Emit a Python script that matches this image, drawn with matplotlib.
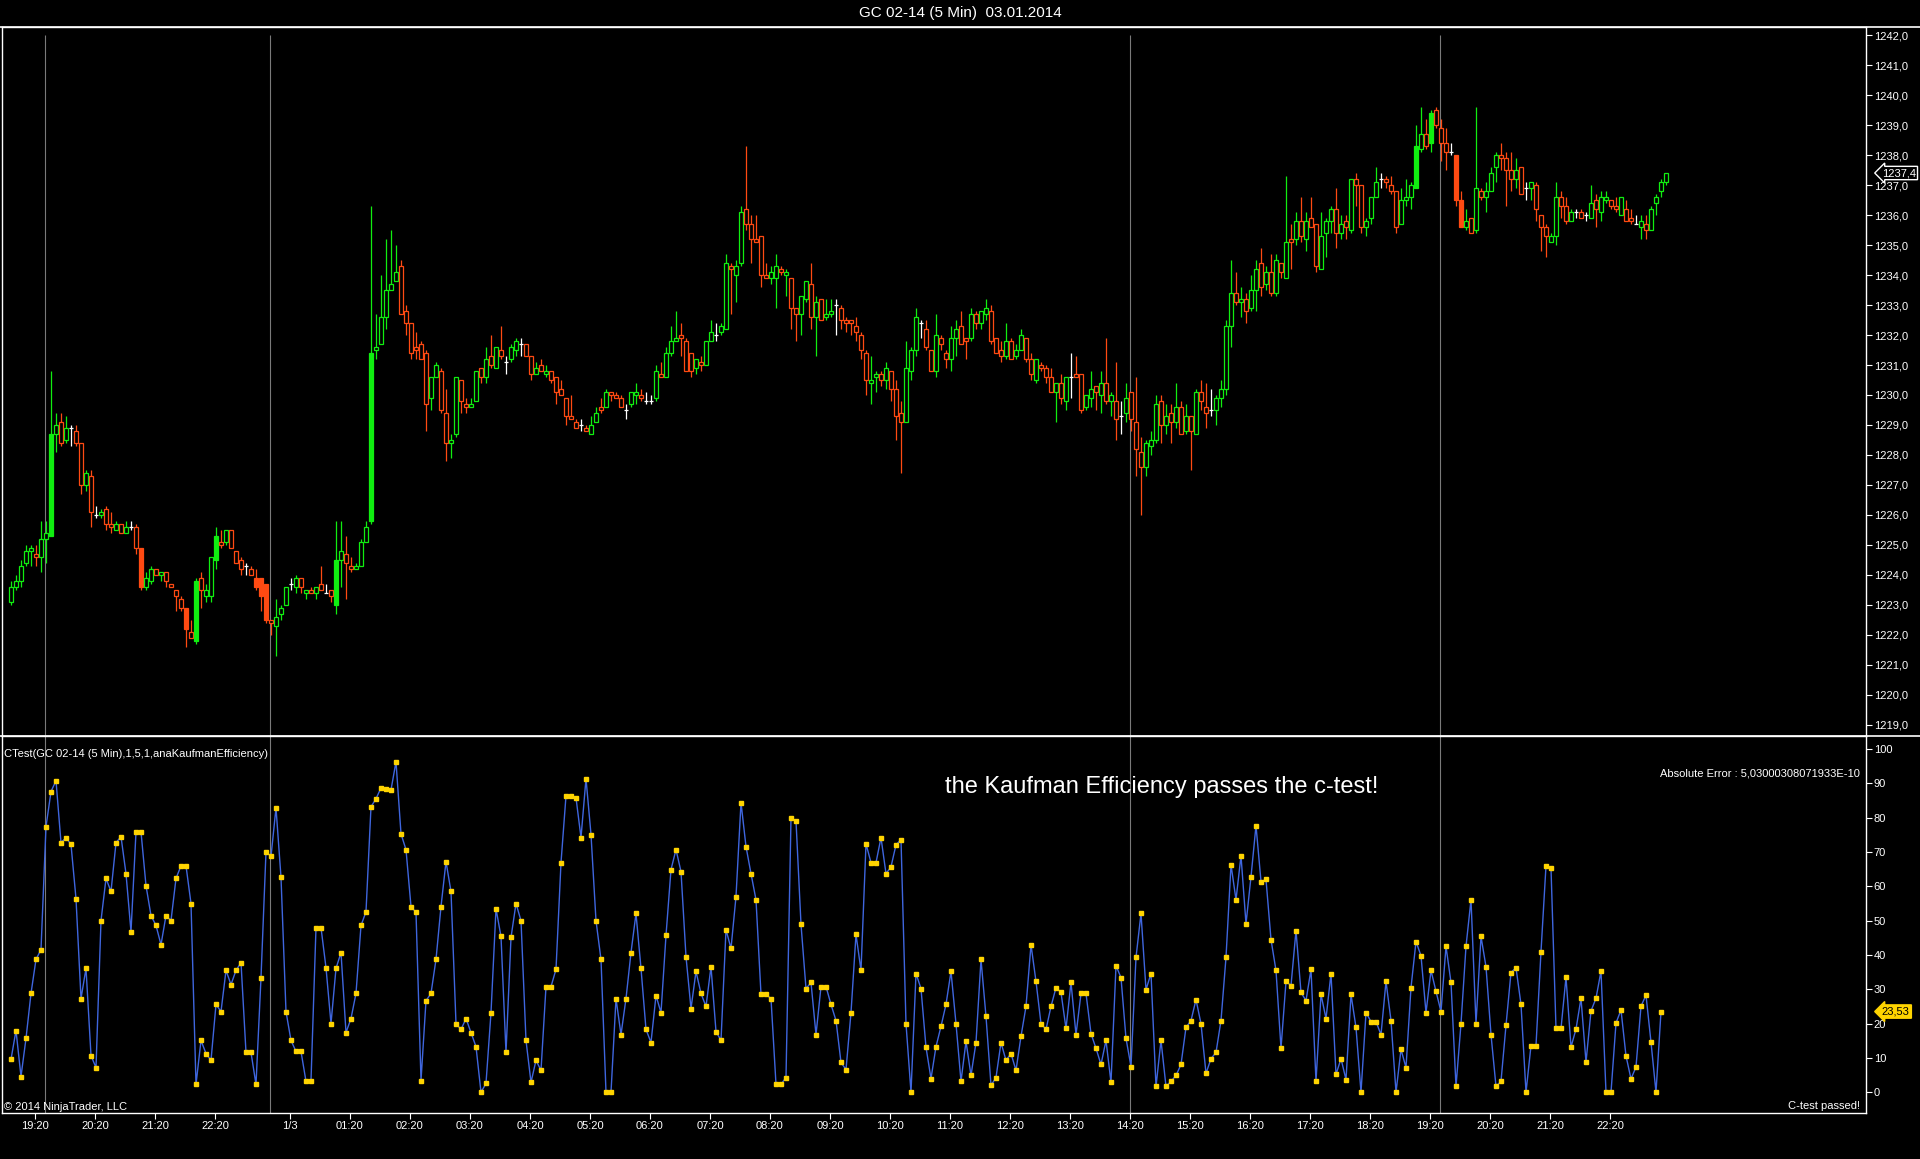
import numpy as np
import matplotlib.pyplot as plt
from matplotlib.lines import Line2D

plt.rcParams['font.family'] = ['Liberation Sans', 'DejaVu Sans']

title = 'GC 02-14 (5 Min)  03.01.2014'
ind_name = 'CTest(GC 02-14 (5 Min),1,5,1,anaKaufmanEfficiency)'

# 5 min bars, OHLC
opens = [
    1223.1, 1223.6, 1223.8, 1224.4, 1224.8, 1224.7, 1224.6, 1225.2, 1225.3, 1228.7,
    1229.1, 1228.5, 1228.9, 1228.8, 1228.4, 1227.0, 1227.3, 1226.0, 1226.0, 1226.2,
    1225.7, 1225.5, 1225.7, 1225.4, 1225.6, 1225.6, 1224.9, 1223.6, 1223.8, 1224.2,
    1224.0, 1224.1, 1223.7, 1223.5, 1223.2, 1222.9, 1222.1, 1221.8, 1223.9, 1223.3,
    1223.3, 1224.5, 1225.1, 1225.1, 1225.5, 1224.8, 1224.5, 1224.3, 1224.2, 1223.9,
    1223.9, 1223.7, 1222.5, 1222.3, 1222.7, 1223.0, 1223.7, 1223.6, 1223.9, 1223.4,
    1223.5, 1223.4, 1223.7, 1223.4, 1223.5, 1223.0, 1224.5, 1224.7, 1224.3, 1224.2,
    1224.3, 1225.1, 1225.8, 1231.5, 1231.7, 1232.6, 1233.5, 1233.8, 1234.3, 1232.8,
    1232.4, 1231.6, 1231.7, 1231.4, 1229.9, 1230.6, 1230.8, 1229.4, 1228.4, 1228.7,
    1230.5, 1229.7, 1229.6, 1229.8, 1230.9, 1230.6, 1231.3, 1230.9, 1231.5, 1231.1,
    1231.2, 1231.5, 1231.7, 1231.7, 1231.3, 1230.7, 1231.0, 1230.7, 1230.8, 1230.6,
    1230.2, 1229.9, 1229.3, 1229.1, 1229.0, 1228.9, 1228.7, 1229.1, 1229.6, 1229.6,
    1230.1, 1230.0, 1229.9, 1229.5, 1229.7, 1230.0, 1230.0, 1229.8, 1229.8, 1229.9,
    1230.7, 1230.6, 1231.4, 1231.8, 1232.0, 1231.8, 1231.4, 1230.9, 1231.1, 1231.0,
    1231.8, 1232.0, 1232.1, 1232.2, 1234.3, 1234.0, 1234.4, 1236.2, 1235.7, 1235.2,
    1235.3, 1234.0, 1233.9, 1233.9, 1234.2, 1234.0, 1233.9, 1232.9, 1232.7, 1233.2,
    1233.7, 1232.6, 1233.2, 1232.6, 1232.7, 1233.0, 1232.9, 1232.5, 1232.5, 1232.3,
    1232.0, 1231.4, 1230.4, 1230.6, 1230.7, 1230.5, 1230.8, 1230.2, 1229.4, 1229.1,
    1230.8, 1231.5, 1232.4, 1232.2, 1231.5, 1230.8, 1231.9, 1231.4, 1231.2, 1231.9,
    1232.3, 1231.9, 1231.9, 1232.7, 1232.4, 1232.7, 1232.8, 1231.9, 1231.5, 1231.3,
    1231.8, 1231.3, 1231.5, 1231.9, 1231.2, 1230.5, 1231.0, 1230.9, 1230.6, 1230.1,
    1230.4, 1229.8, 1230.6, 1230.7, 1230.7, 1229.6, 1229.9, 1230.3, 1230.0, 1230.4,
    1229.8, 1229.8, 1229.3, 1229.4, 1230.1, 1229.1, 1228.1, 1227.6, 1228.3, 1228.5,
    1229.8, 1229.0, 1229.4, 1229.1, 1229.6, 1228.8, 1229.3, 1228.7, 1230.1, 1229.6,
    1229.5, 1229.5, 1229.9, 1230.2, 1232.3, 1233.4, 1233.1, 1233.2, 1232.9, 1233.5,
    1234.4, 1233.7, 1234.1, 1233.4, 1234.4, 1233.9, 1235.2, 1235.2, 1235.8, 1235.2,
    1235.9, 1235.7, 1234.2, 1235.4, 1235.8, 1236.2, 1235.4, 1235.8, 1235.5, 1237.2,
    1237.0, 1235.6, 1235.9, 1236.6, 1237.2, 1237.2, 1237.0, 1236.8, 1235.7, 1236.5,
    1236.6, 1236.9, 1238.2, 1238.7, 1238.4, 1239.5, 1238.9, 1238.4, 1238.1, 1238.0,
    1236.5, 1235.6, 1235.9, 1235.5, 1236.8, 1236.6, 1236.8, 1237.6, 1238.0, 1237.9,
    1237.5, 1237.2, 1237.6, 1236.9, 1236.9, 1237.0, 1236.0, 1235.6, 1235.1, 1235.3,
    1236.6, 1236.3, 1235.8, 1236.1, 1236.1, 1236.0, 1235.9, 1236.5, 1236.1, 1236.5,
    1236.5, 1236.3, 1236.0, 1236.2, 1235.9, 1235.7, 1235.6, 1235.7, 1235.5, 1236.4,
    1236.8, 1237.1,
]
highs = [
    1223.8, 1224.0, 1224.5, 1225.0, 1225.0, 1225.0, 1225.8, 1225.8, 1230.8, 1229.4,
    1229.4, 1229.3, 1229.0, 1229.0, 1228.4, 1227.5, 1227.5, 1226.3, 1226.2, 1226.3,
    1226.1, 1225.8, 1225.7, 1225.8, 1225.8, 1225.7, 1224.9, 1224.1, 1224.3, 1224.2,
    1224.1, 1224.1, 1223.7, 1223.5, 1223.3, 1222.9, 1222.5, 1223.9, 1224.1, 1223.7,
    1224.6, 1225.6, 1225.5, 1225.5, 1225.5, 1224.8, 1224.6, 1224.4, 1224.3, 1224.2,
    1223.9, 1223.7, 1222.5, 1223.2, 1223.0, 1223.6, 1223.9, 1224.0, 1223.9, 1223.5,
    1223.6, 1223.6, 1224.3, 1223.7, 1223.5, 1225.8, 1225.8, 1225.3, 1224.6, 1224.4,
    1225.2, 1225.8, 1236.3, 1232.7, 1234.0, 1235.2, 1235.5, 1235.0, 1234.5, 1233.0,
    1232.4, 1232.1, 1231.8, 1231.5, 1230.6, 1231.1, 1230.9, 1230.2, 1228.7, 1230.6,
    1230.5, 1229.9, 1229.9, 1230.8, 1230.9, 1231.6, 1232.0, 1231.6, 1232.3, 1231.3,
    1231.7, 1231.9, 1231.9, 1231.7, 1231.3, 1231.1, 1231.2, 1231.0, 1230.8, 1230.6,
    1230.5, 1229.9, 1230.0, 1229.2, 1229.2, 1229.0, 1229.3, 1229.6, 1229.9, 1230.2,
    1230.1, 1230.1, 1230.0, 1229.7, 1230.1, 1230.4, 1230.2, 1230.1, 1230.0, 1231.0,
    1231.1, 1231.6, 1232.3, 1232.8, 1232.4, 1231.9, 1231.4, 1231.2, 1231.3, 1231.8,
    1232.5, 1232.4, 1232.4, 1234.7, 1234.4, 1234.5, 1236.3, 1238.3, 1236.0, 1236.0,
    1235.3, 1234.4, 1234.3, 1234.7, 1234.3, 1234.2, 1233.9, 1232.9, 1233.3, 1233.8,
    1234.4, 1233.3, 1233.2, 1233.2, 1233.2, 1233.2, 1233.0, 1232.6, 1232.5, 1232.6,
    1232.1, 1231.5, 1231.3, 1230.8, 1230.8, 1231.1, 1230.8, 1230.5, 1229.8, 1231.8,
    1231.6, 1232.9, 1232.5, 1232.5, 1231.5, 1232.7, 1232.0, 1231.5, 1232.3, 1232.5,
    1232.8, 1231.9, 1232.9, 1232.8, 1232.8, 1233.2, 1233.0, 1231.9, 1231.8, 1232.4,
    1231.9, 1231.7, 1232.2, 1231.9, 1231.4, 1231.2, 1231.1, 1231.0, 1230.9, 1230.4,
    1230.7, 1230.6, 1231.4, 1231.3, 1230.7, 1230.0, 1230.8, 1230.3, 1230.8, 1231.9,
    1230.1, 1231.1, 1229.8, 1230.4, 1230.1, 1230.6, 1228.6, 1228.5, 1228.8, 1230.0,
    1230.0, 1229.7, 1229.7, 1230.4, 1229.8, 1229.7, 1229.3, 1230.2, 1230.5, 1230.4,
    1230.2, 1230.0, 1230.5, 1232.5, 1234.5, 1234.1, 1233.6, 1233.4, 1234.0, 1234.5,
    1234.9, 1234.3, 1234.7, 1234.7, 1234.4, 1237.3, 1235.7, 1236.1, 1236.6, 1236.1,
    1236.6, 1235.7, 1236.1, 1235.9, 1236.3, 1236.9, 1236.0, 1236.0, 1237.2, 1237.4,
    1237.0, 1235.9, 1236.6, 1237.6, 1237.4, 1237.3, 1237.3, 1236.8, 1236.9, 1237.2,
    1237.1, 1239.0, 1239.6, 1239.2, 1239.5, 1239.6, 1239.2, 1238.9, 1238.4, 1238.0,
    1236.8, 1236.2, 1235.9, 1239.6, 1236.9, 1237.1, 1237.6, 1238.1, 1238.4, 1238.1,
    1238.1, 1237.9, 1237.6, 1237.1, 1237.1, 1237.1, 1236.0, 1235.7, 1235.4, 1237.1,
    1236.8, 1236.6, 1236.2, 1236.2, 1236.2, 1236.1, 1237.0, 1236.7, 1236.8, 1236.8,
    1236.5, 1236.6, 1236.6, 1236.5, 1236.2, 1236.0, 1236.0, 1236.0, 1236.3, 1236.7,
    1237.2, 1237.4,
]
lows = [
    1223.0, 1223.5, 1223.6, 1224.3, 1224.3, 1224.3, 1224.1, 1224.4, 1225.3, 1228.1,
    1228.3, 1228.4, 1228.3, 1228.3, 1226.7, 1226.8, 1225.6, 1225.9, 1225.9, 1225.5,
    1225.4, 1225.5, 1225.4, 1225.4, 1225.5, 1224.7, 1223.5, 1223.5, 1223.7, 1224.0,
    1223.8, 1223.6, 1223.6, 1222.8, 1222.8, 1221.6, 1221.9, 1221.7, 1222.9, 1223.1,
    1223.1, 1224.2, 1224.9, 1225.0, 1224.9, 1224.4, 1224.0, 1224.0, 1224.0, 1223.5,
    1222.8, 1222.4, 1222.0, 1221.3, 1222.5, 1223.0, 1223.5, 1223.4, 1223.4, 1223.2,
    1223.4, 1223.2, 1223.5, 1223.4, 1223.1, 1222.7, 1223.6, 1223.2, 1224.1, 1224.2,
    1224.3, 1225.1, 1225.7, 1231.2, 1231.7, 1232.2, 1233.5, 1233.8, 1232.7, 1232.0,
    1231.2, 1231.2, 1231.2, 1228.8, 1229.5, 1230.6, 1229.4, 1227.8, 1227.9, 1228.6,
    1229.4, 1229.4, 1229.6, 1229.8, 1230.4, 1230.4, 1230.9, 1230.9, 1231.2, 1230.7,
    1231.1, 1231.3, 1231.3, 1231.3, 1230.5, 1230.7, 1230.8, 1230.6, 1230.4, 1229.7,
    1230.0, 1229.0, 1229.2, 1228.9, 1228.8, 1228.8, 1228.7, 1229.1, 1229.4, 1229.6,
    1229.8, 1229.9, 1229.6, 1229.2, 1229.6, 1229.7, 1229.8, 1229.7, 1229.7, 1229.8,
    1230.6, 1230.6, 1231.3, 1231.8, 1231.3, 1230.8, 1230.6, 1230.7, 1230.8, 1231.0,
    1231.8, 1231.8, 1232.0, 1232.2, 1232.7, 1233.1, 1234.3, 1235.5, 1234.4, 1235.1,
    1233.6, 1233.9, 1233.7, 1232.9, 1234.0, 1233.3, 1232.2, 1231.8, 1232.0, 1233.1,
    1232.2, 1231.3, 1232.5, 1232.5, 1232.6, 1232.0, 1232.2, 1232.1, 1232.0, 1231.8,
    1231.2, 1230.0, 1229.7, 1230.1, 1230.3, 1230.2, 1229.8, 1228.5, 1227.4, 1229.1,
    1230.5, 1231.3, 1231.9, 1231.5, 1230.8, 1230.6, 1231.5, 1230.9, 1230.8, 1231.3,
    1231.7, 1231.2, 1231.8, 1232.2, 1232.2, 1232.5, 1231.7, 1231.4, 1231.1, 1231.2,
    1231.2, 1231.2, 1231.5, 1231.1, 1230.5, 1230.4, 1230.8, 1230.4, 1230.1, 1229.1,
    1229.7, 1229.5, 1229.9, 1230.6, 1229.4, 1229.5, 1229.6, 1229.5, 1229.4, 1229.7,
    1229.3, 1228.5, 1228.7, 1229.1, 1228.8, 1227.3, 1226.0, 1227.3, 1228.0, 1228.4,
    1228.4, 1228.7, 1228.4, 1228.9, 1228.7, 1228.7, 1227.5, 1228.7, 1229.5, 1228.9,
    1229.3, 1229.0, 1229.6, 1230.0, 1231.6, 1233.0, 1232.6, 1232.4, 1232.8, 1232.8,
    1233.3, 1233.5, 1233.3, 1233.3, 1233.9, 1233.9, 1234.2, 1235.0, 1235.1, 1234.8,
    1235.6, 1234.1, 1234.2, 1234.6, 1235.4, 1234.9, 1235.2, 1235.2, 1235.4, 1236.3,
    1235.4, 1235.3, 1235.7, 1236.6, 1236.9, 1236.9, 1236.7, 1235.4, 1235.7, 1236.3,
    1236.2, 1236.9, 1238.1, 1238.2, 1238.1, 1238.9, 1237.8, 1237.5, 1238.0, 1236.3,
    1235.6, 1235.5, 1235.4, 1235.4, 1236.5, 1236.1, 1236.8, 1237.1, 1237.5, 1236.3,
    1236.8, 1236.9, 1236.7, 1236.5, 1236.5, 1235.8, 1234.8, 1234.6, 1235.1, 1235.0,
    1235.9, 1235.7, 1235.8, 1235.9, 1235.9, 1235.8, 1235.9, 1235.6, 1235.8, 1236.4,
    1236.2, 1236.1, 1236.0, 1235.8, 1235.7, 1235.7, 1235.2, 1235.2, 1235.5, 1236.0,
    1236.6, 1237.0,
]
closes = [
    1223.6, 1223.8, 1224.3, 1224.8, 1224.9, 1224.6, 1225.2, 1225.4, 1228.7, 1229.0,
    1228.4, 1228.9, 1228.9, 1228.4, 1227.0, 1227.4, 1226.1, 1226.0, 1226.1, 1225.7,
    1225.6, 1225.7, 1225.4, 1225.6, 1225.6, 1224.9, 1223.6, 1223.9, 1224.2, 1224.0,
    1224.1, 1223.8, 1223.6, 1223.3, 1222.9, 1222.2, 1221.9, 1223.8, 1223.5, 1223.5,
    1224.6, 1225.3, 1225.0, 1225.5, 1224.9, 1224.4, 1224.2, 1224.3, 1224.0, 1223.6,
    1223.3, 1222.5, 1222.4, 1222.6, 1222.9, 1223.6, 1223.7, 1223.9, 1223.6, 1223.5,
    1223.4, 1223.6, 1223.5, 1223.4, 1223.3, 1224.5, 1224.8, 1224.4, 1224.2, 1224.3,
    1225.1, 1225.6, 1231.4, 1231.6, 1232.6, 1233.5, 1233.7, 1234.1, 1232.7, 1232.4,
    1231.4, 1231.5, 1231.2, 1229.7, 1230.6, 1231.0, 1229.5, 1228.4, 1228.5, 1230.6,
    1229.8, 1229.6, 1229.7, 1230.8, 1230.6, 1231.2, 1231.0, 1231.6, 1231.3, 1231.1,
    1231.6, 1231.8, 1231.7, 1231.3, 1230.7, 1230.9, 1230.8, 1230.8, 1230.5, 1230.1,
    1230.0, 1229.3, 1229.2, 1228.9, 1229.0, 1228.8, 1229.0, 1229.4, 1229.5, 1230.1,
    1230.0, 1229.9, 1229.6, 1229.5, 1230.1, 1230.1, 1229.9, 1229.8, 1229.8, 1230.8,
    1230.6, 1231.4, 1231.8, 1231.9, 1231.9, 1230.8, 1230.8, 1231.2, 1231.0, 1231.8,
    1232.1, 1232.0, 1232.3, 1234.4, 1234.2, 1234.3, 1236.1, 1235.7, 1235.2, 1235.1,
    1234.0, 1233.9, 1234.1, 1234.3, 1234.1, 1234.1, 1232.9, 1232.7, 1233.3, 1233.8,
    1232.6, 1233.1, 1232.5, 1232.7, 1232.8, 1233.0, 1232.5, 1232.4, 1232.4, 1232.1,
    1231.5, 1230.5, 1230.5, 1230.7, 1230.5, 1230.9, 1230.2, 1229.3, 1229.1, 1230.9,
    1231.5, 1232.6, 1232.4, 1231.6, 1230.8, 1232.0, 1231.7, 1231.2, 1231.9, 1232.2,
    1231.7, 1231.8, 1232.7, 1232.4, 1232.8, 1232.9, 1231.8, 1231.4, 1231.3, 1231.8,
    1231.2, 1231.5, 1232.0, 1231.2, 1230.7, 1231.2, 1230.9, 1230.6, 1230.1, 1230.4,
    1229.9, 1230.6, 1230.6, 1230.6, 1229.5, 1230.0, 1230.2, 1230.1, 1230.4, 1229.8,
    1230.0, 1229.2, 1229.3, 1229.9, 1229.2, 1228.2, 1227.6, 1228.4, 1228.5, 1229.7,
    1229.0, 1229.3, 1229.1, 1229.6, 1228.7, 1229.3, 1228.8, 1230.1, 1229.8, 1229.4,
    1229.5, 1229.9, 1230.2, 1232.3, 1233.4, 1233.1, 1233.2, 1232.8, 1233.5, 1234.2,
    1233.6, 1234.1, 1233.4, 1234.5, 1234.1, 1235.1, 1235.1, 1235.8, 1235.3, 1235.8,
    1235.6, 1234.3, 1235.3, 1235.8, 1236.2, 1235.4, 1235.7, 1235.6, 1237.2, 1237.0,
    1235.6, 1235.8, 1236.6, 1237.1, 1237.2, 1237.1, 1236.8, 1235.6, 1236.5, 1236.6,
    1237.0, 1238.3, 1238.7, 1238.3, 1239.4, 1239.0, 1238.4, 1238.1, 1238.1, 1236.5,
    1235.6, 1235.8, 1235.4, 1236.9, 1236.6, 1236.8, 1237.4, 1238.0, 1237.9, 1237.5,
    1237.2, 1237.5, 1236.7, 1236.9, 1237.1, 1236.2, 1235.6, 1235.3, 1235.3, 1236.6,
    1236.3, 1235.8, 1236.1, 1236.1, 1235.9, 1236.0, 1236.4, 1236.2, 1236.6, 1236.6,
    1236.3, 1236.2, 1236.6, 1235.8, 1235.8, 1235.7, 1235.8, 1235.5, 1236.2, 1236.6,
    1237.1, 1237.4,
]

# Kaufman efficiency (c-test indicator), one value per closed bar
efficiency = [
    9.6, 18.0, 4.6, 15.7, 28.8, 38.7, 41.6, 77.4, 87.6, 90.8,
    72.7, 74.2, 72.2, 56.4, 27.3, 36.1, 10.7, 7.2, 50.0, 62.3,
    58.5, 72.7, 74.5, 63.7, 46.8, 75.9, 75.9, 60.2, 51.5, 48.6,
    43.0, 51.5, 50.0, 62.3, 66.0, 66.0, 55.0, 2.3, 15.1, 11.3,
    9.3, 25.6, 23.5, 35.5, 31.4, 35.5, 37.8, 11.6, 11.6, 2.3,
    33.4, 70.1, 68.7, 82.9, 62.6, 23.5, 15.1, 11.9, 11.9, 3.2,
    3.4, 48.0, 48.0, 36.3, 20.0, 36.1, 40.7, 17.4, 21.5, 28.8,
    48.6, 52.6, 83.2, 85.5, 88.7, 88.4, 88.1, 96.3, 75.3, 70.7,
    54.1, 52.4, 3.4, 26.7, 28.8, 38.7, 54.1, 67.2, 58.5, 20.0,
    18.3, 21.5, 17.4, 13.3, 0.0, 2.6, 23.2, 53.5, 45.4, 11.6,
    45.1, 55.0, 50.0, 15.1, 2.9, 9.3, 6.4, 30.8, 30.8, 35.8,
    66.9, 86.4, 86.4, 85.8, 74.2, 91.4, 75.1, 50.0, 38.7, 0.0,
    0.0, 27.3, 16.8, 27.3, 40.7, 52.1, 36.1, 18.3, 14.5, 28.2,
    23.2, 45.7, 64.9, 70.7, 64.3, 39.5, 24.4, 35.2, 28.8, 25.0,
    36.6, 17.7, 15.1, 47.4, 41.9, 57.0, 84.4, 71.6, 63.7, 56.1,
    28.5, 28.5, 27.3, 2.3, 2.3, 4.3, 80.0, 79.1, 48.9, 30.2,
    32.0, 16.8, 30.8, 30.8, 25.6, 20.9, 8.7, 6.6, 23.2, 46.0,
    35.5, 72.4, 66.9, 66.9, 74.2, 63.7, 65.7, 72.1, 73.6, 20.0,
    0.0, 34.6, 30.2, 13.1, 4.0, 13.3, 19.2, 25.6, 35.2, 20.0,
    3.2, 14.8, 4.9, 14.5, 38.7, 22.1, 2.0, 4.3, 14.5, 9.3,
    11.3, 6.4, 16.3, 25.0, 43.0, 32.3, 20.0, 18.3, 25.0, 30.5,
    29.1, 18.6, 32.0, 16.8, 28.8, 28.8, 17.1, 12.8, 8.1, 15.1,
    2.9, 36.9, 33.4, 15.7, 7.5, 39.3, 52.1, 29.9, 34.6, 1.7,
    15.1, 1.7, 3.2, 4.9, 8.1, 18.9, 20.9, 27.0, 20.0, 5.5,
    9.8, 11.6, 20.9, 39.3, 66.3, 56.1, 68.9, 49.1, 62.8, 77.7,
    61.4, 62.0, 44.5, 35.5, 12.8, 32.3, 31.1, 47.1, 29.1, 26.7,
    35.8, 3.2, 28.5, 21.5, 34.6, 5.2, 9.8, 3.7, 28.5, 18.9,
    0.0, 23.2, 20.6, 20.6, 16.8, 32.3, 20.9, 0.0, 12.5, 7.2,
    30.5, 43.9, 39.8, 23.2, 35.5, 29.4, 23.5, 42.5, 32.0, 1.7,
    20.0, 42.5, 56.1, 20.0, 45.4, 36.6, 16.8, 1.7, 3.2, 19.5,
    34.9, 36.3, 25.6, 0.0, 13.6, 13.6, 41.0, 66.0, 65.2, 18.6,
    18.6, 33.5, 13.2, 18.4, 27.4, 8.8, 23.7, 27.4, 35.3, 0.0,
    0.0, 20.2, 24.0, 10.6, 3.9, 7.4, 25.1, 28.3, 14.6, 0.0,
    23.53,
]

time_labels = ['19:20', '20:20', '21:20', '22:20', '1/3', '01:20', '02:20', '03:20',
               '04:20', '05:20', '06:20', '07:20', '08:20', '09:20', '10:20', '11:20',
               '12:20', '13:20', '14:20', '15:20', '16:20', '17:20', '18:20', '19:20',
               '20:20', '21:20', '22:20']
time_bars = [5, 17, 29, 41] + list(range(56, 321, 12))
session_bars = [7, 52, 224, 286]
filled_bars = [8, 26, 35, 37, 41, 49, 50, 51, 65, 72, 281, 284, 289, 290]

# ---- layout in pixels of a 1920 x 1159 canvas
W, H = 1920, 1159
def fx(px):
    return px / W
def fy(py):
    return 1 - py / H

GREEN = '#10EE10'
RED = '#FF4A12'
GRID = '#7a7a7a'

fig = plt.figure(figsize=(W / 100, H / 100), dpi=100, facecolor='black')
ax1 = fig.add_axes([fx(2), fy(736), fx(1866) - fx(2), fy(27) - fy(736)], facecolor='black')
ax2 = fig.add_axes([fx(2), fy(1113), fx(1866) - fx(2), fy(736) - fy(1113)], facecolor='black')

o = np.array(opens)
h = np.array(highs)
l = np.array(lows)
c = np.array(closes)
x = np.arange(len(c))

cols = np.where(c > o, GREEN, np.where(c < o, RED, 'white'))
faces = np.array(['black'] * len(c), dtype=object)
faces[filled_bars] = cols[filled_bars]

ax1.vlines(x, l, h, colors=cols, linewidth=0.9, zorder=2)
ax1.bar(x, np.abs(c - o), bottom=np.minimum(o, c), width=0.62, color=list(faces),
        edgecolor=list(cols), linewidth=0.9, zorder=3)

ax1.set_xlim(-1.8, 371)
ax1.set_ylim(1218.633, 1242.267)
ax1.vlines([b - 0.2 for b in session_bars], 1218.633, 1242.0, colors=GRID, linewidth=0.8, zorder=1)

ax1.set_xticks([])
ax1.yaxis.tick_right()
pticks = np.arange(1219, 1243)
ax1.set_yticks(pticks)
ax1.set_yticklabels([f'{v},0' for v in pticks])
ax1.tick_params(axis='y', colors='white', labelcolor='white', direction='out',
                length=4, width=0.8, labelsize=8, pad=1.5)

# indicator panel
xi = np.arange(len(efficiency))
ax2.plot(xi, efficiency, color='#3F66DE', linewidth=1.0, zorder=3)
ax2.plot(xi, efficiency, linestyle='none', marker='s', markersize=2.6,
         markerfacecolor='#FFD400', markeredgecolor='#FFD400', zorder=4)
ax2.set_xlim(-1.8, 371)
ax2.set_ylim(-6.03, 103.8)
for b in session_bars:
    ax2.axvline(b - 0.2, color=GRID, linewidth=0.8, zorder=1)

ax2.yaxis.tick_right()
eticks = np.arange(0, 101, 10)
ax2.set_yticks(eticks)
ax2.set_yticklabels([str(v) for v in eticks])
ax2.set_xticks([b - 0.2 for b in time_bars])
ax2.set_xticklabels(time_labels)
ax2.tick_params(axis='both', colors='white', labelcolor='white', direction='out',
                length=4, width=0.8, labelsize=8)
ax2.tick_params(axis='y', pad=1.5)
ax2.tick_params(axis='x', pad=2)

for ax in (ax1, ax2):
    for s in ax.spines.values():
        s.set_color('white')
        s.set_linewidth(1.0)

# full width separators
for yy in (27, 736):
    fig.add_artist(Line2D([0, 1], [fy(yy), fy(yy)], transform=fig.transFigure,
                          color='white', linewidth=1.2))

fig.text(0.5, fy(13), title, color='white', fontsize=11, ha='center', va='center')
fig.text(fx(4), fy(754), ind_name, color='white', fontsize=8, ha='left', va='center')
fig.text(fx(4), fy(1107), '\u00a9 2014 NinjaTrader, LLC', color='white', fontsize=8,
         ha='left', va='center')
fig.text(fx(945), fy(787), 'the Kaufman Efficiency passes the c-test!', color='white',
         fontsize=17, ha='left', va='center')
fig.text(fx(1860), fy(774), 'Absolute Error : 5,03000308071933E-10', color='white',
         fontsize=8, ha='right', va='center')
fig.text(fx(1860), fy(1106), 'C-test passed!', color='white', fontsize=8,
         ha='right', va='center')

# last value markers on the axes
ax1.text(1.0085, c[-1], f'{c[-1]:.1f}'.replace('.', ','), transform=ax1.get_yaxis_transform(),
         color='white', fontsize=8, ha='left', va='center', zorder=10, clip_on=False,
         bbox=dict(boxstyle='larrow,pad=0.15', fc='black', ec='white', lw=1.0))
ax2.text(1.0085, efficiency[-1], f'{efficiency[-1]:.2f}'.replace('.', ','),
         transform=ax2.get_yaxis_transform(), color='black', fontsize=8, ha='left',
         va='center', zorder=10, clip_on=False,
         bbox=dict(boxstyle='larrow,pad=0.15', fc='#FFD400', ec='#FFD400', lw=1.0))

fig.savefig('out.png', dpi=100, facecolor='black')
